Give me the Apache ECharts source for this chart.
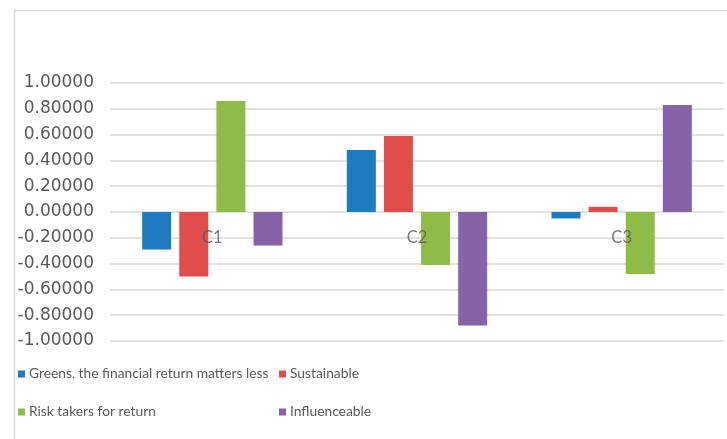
<!DOCTYPE html>
<html>
<head>
<meta charset="utf-8">
<script src="https://cdn.jsdelivr.net/npm/echarts@6/dist/echarts.min.js"></script>
<style>
  html, body { margin: 0; padding: 0; background: #fff; }
  #chart { width: 727px; height: 439px; }
</style>
</head>
<body>
<div id="chart"></div>
<script>
const categories = ['C1', 'C2', 'C3'];
const seriesNames = ['Greens, the financial return matters less', 'Sustainable', 'Risk takers for return', 'Influenceable'];
const greens = [-0.29, 0.48, -0.05];
const sustainable = [-0.50, 0.59, 0.04];
const riskTakers = [0.86, -0.41, -0.48];
const influenceable = [-0.26, -0.88, 0.83];
const colors = ['#1f7bbf', '#e04d4a', '#8fbb48', '#8662a6'];

const values = [greens, sustainable, riskTakers, influenceable];
const fontFamily = 'Lato, "Noto Sans", sans-serif';

const myChart = echarts.init(document.getElementById('chart'));

// legend positions: two columns, two rows
const legendPos = [
  { left: 13, top: 362 },
  { left: 274, top: 362 },
  { left: 13, top: 400 },
  { left: 274, top: 400 }
];

const barSeries = seriesNames.map((name, i) => ({
  name: name,
  type: 'bar',
  data: values[i],
  barWidth: 29,
  barGap: '28%',
  itemStyle: { color: colors[i] }
}));

// category labels sit just below the zero line, drawn above the bars
const labelSeries = {
  type: 'scatter',
  data: categories.map(c => [c, 0]),
  symbolSize: 0,
  silent: true,
  z: 10,
  label: {
    show: true,
    position: 'bottom',
    distance: 17,
    formatter: p => p.value[0],
    color: '#595959',
    fontSize: 16.5,
    fontFamily: fontFamily
  }
};

const option = {
  animation: false,
  graphic: [{
    type: 'rect',
    left: 12,
    top: 8,
    shape: { width: 760, height: 480 },
    style: { fill: 'none', stroke: '#d9d9d9', lineWidth: 1.5 },
    silent: true
  }],
  legend: seriesNames.map((name, i) => ({
    data: [name],
    left: legendPos[i].left,
    top: legendPos[i].top,
    icon: 'rect',
    itemWidth: 7,
    itemHeight: 7,
    itemGap: 0,
    textStyle: { color: '#595959', fontSize: 13.8, fontFamily: fontFamily, padding: [0, 0, 0, -1] }
  })),
  grid: { left: 110, right: 3, top: 83, bottom: 98 },
  xAxis: {
    type: 'category',
    data: categories,
    axisLine: { show: false },
    axisTick: { show: false },
    axisLabel: { show: false }
  },
  yAxis: {
    type: 'value',
    min: -1,
    max: 1,
    interval: 0.2,
    axisLine: { show: false },
    axisTick: { show: false },
    splitLine: { lineStyle: { color: '#d9d9d9', width: 1.5 } },
    axisLabel: {
      color: '#595959',
      fontSize: 17,
      fontFamily: '"DejaVu Sans", sans-serif',
      margin: 16,
      formatter: v => v.toFixed(5)
    }
  },
  series: barSeries.concat([labelSeries])
};

myChart.setOption(option);
</script>
</body>
</html>
